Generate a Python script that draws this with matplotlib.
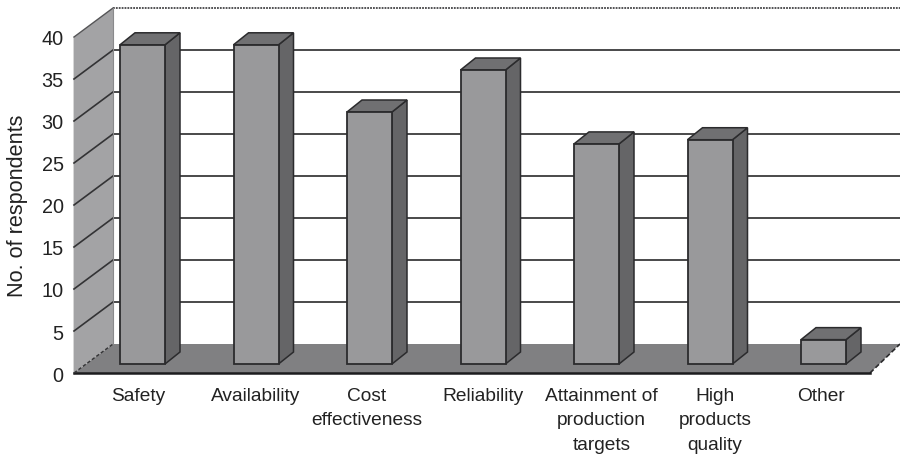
import matplotlib
matplotlib.use("Agg")
import matplotlib.pyplot as plt
from matplotlib.patches import Polygon
from matplotlib.transforms import ScaledTranslation

plt.rcParams['font.family'] = ['Liberation Sans', 'DejaVu Sans']

categories = ["Safety", "Availability", "Cost\neffectiveness", "Reliability",
              "Attainment of\nproduction\ntargets", "High\nproducts\nquality", "Other"]
values = [38.0, 38.0, 30.0, 35.0, 26.2, 26.7, 2.9]
y_ticks = [0, 5, 10, 15, 20, 25, 30, 35, 40]
label_nudge_px = [-4, 0, -3, 0, 5, 5, -3]

W, H = 900, 458
fig = plt.figure(figsize=(W / 100, H / 100), dpi=100, facecolor="white")

# front plane of the 3D box, in pixels
L, R, T, B = 74, 870, 37, 373
ax = fig.add_axes([L / W, 1 - B / H, (R - L) / W, (B - T) / H])
unit_x = 113.5   # px per category
unit_y = (B - T) / 40
ax.set_xlim((L - 142.5) / unit_x, (R - 142.5) / unit_x)
ax.set_ylim(0, 40)
ax.patch.set_visible(False)

wall_dx, wall_dy = 39 / unit_x, 29 / unit_y
bar_w = 45 / unit_x
bar_dx, bar_dy = 15 / unit_x, 12 / unit_y
base = 9 / unit_y
x0, x1 = ax.get_xlim()
back_end = x1 + 30 / unit_x

EDGE = "#2b2b2d"
WALL = "#a3a3a5"
FLOOR = "#808082"
FRONT = "#99999b"
SIDE = "#656567"
TOP = "#707072"
TEXT = "#222222"

# back wall grid lines
for t in y_ticks[1:-1]:
    ax.plot([x0 + wall_dx, back_end], [t + wall_dy] * 2, color="#3a3a3c", lw=1.3,
            clip_on=False, zorder=1, solid_capstyle="butt")
ax.plot([x0 + wall_dx, back_end], [40 + wall_dy] * 2, color="#444446", lw=1.3,
        ls=(0, (1, 0.6)), clip_on=False, zorder=1)

# floor
ax.add_patch(Polygon([(x0, 0), (x1, 0), (back_end, wall_dy), (x0 + wall_dx, wall_dy)],
                     closed=True, fc=FLOOR, ec="none", clip_on=False, zorder=2))
ax.plot([x1, back_end], [0, wall_dy], color="#2b2b2d", lw=1.2, ls=(0, (3, 1.5)),
        clip_on=False, zorder=2)

# left wall
ax.add_patch(Polygon([(x0, 0), (x0 + wall_dx, wall_dy), (x0 + wall_dx, 40 + wall_dy), (x0, 40)],
                     closed=True, fc=WALL, ec="none", clip_on=False, zorder=3))
for t in y_ticks[1:-1]:
    ax.plot([x0, x0 + wall_dx], [t, t + wall_dy], color="#333335", lw=1.2,
            clip_on=False, zorder=3)
ax.plot([x0, x0 + wall_dx], [0, wall_dy], color="#333335", lw=1.0, ls=(0, (2.5, 1.5)),
        clip_on=False, zorder=3)
ax.plot([x0, x0 + wall_dx], [40, 40 + wall_dy], color="#555557", lw=1.0,
        clip_on=False, zorder=3)
ax.plot([x0 + wall_dx] * 2, [wall_dy, 40 + wall_dy], color="#8a8a8c", lw=0.8,
        clip_on=False, zorder=3)

# bars
positions = list(range(len(categories)))
bars = ax.bar(positions, values, width=bar_w, bottom=base, color=FRONT, edgecolor=EDGE,
              linewidth=1.3, zorder=6, clip_on=False)
for xp, v in zip(positions, values):
    l, r = xp - bar_w / 2, xp + bar_w / 2
    b, t = base, base + v
    ax.add_patch(Polygon([(r, b), (r + bar_dx, b + bar_dy), (r + bar_dx, t + bar_dy), (r, t)],
                         closed=True, fc=SIDE, ec=EDGE, lw=1.1, clip_on=False, zorder=5))
    ax.add_patch(Polygon([(l, t), (r, t), (r + bar_dx, t + bar_dy), (l + bar_dx, t + bar_dy)],
                         closed=True, fc=TOP, ec=EDGE, lw=1.1, clip_on=False, zorder=5))

# axes
for s in ("top", "right"):
    ax.spines[s].set_visible(False)
ax.spines["left"].set_color("#333335")
ax.spines["left"].set_linewidth(1.0)
ax.spines["bottom"].set_color("#1c1c1e")
ax.spines["bottom"].set_linewidth(1.8)
ax.set_yticks(y_ticks)
ax.tick_params(axis="y", length=0, pad=7.5, labelsize=14.3, labelcolor=TEXT)
ax.set_xticks(positions)
ax.set_xticklabels(categories, fontsize=13.8, color=TEXT, linespacing=1.6, va="top")
ax.tick_params(axis="x", length=0, pad=10.5)
for lab, n in zip(ax.get_xticklabels(), label_nudge_px):
    lab.set_transform(lab.get_transform() + ScaledTranslation(n / 100, 0, fig.dpi_scale_trans))
for lab in ax.get_yticklabels():
    lab.set_transform(lab.get_transform() + ScaledTranslation(0, -1 / 100, fig.dpi_scale_trans))
fig.text(17.5 / W, 1 - 206 / H, "No. of respondents", rotation=90, ha="center", va="center",
         fontsize=15.6, color=TEXT)

fig.savefig("out.png", dpi=100)
